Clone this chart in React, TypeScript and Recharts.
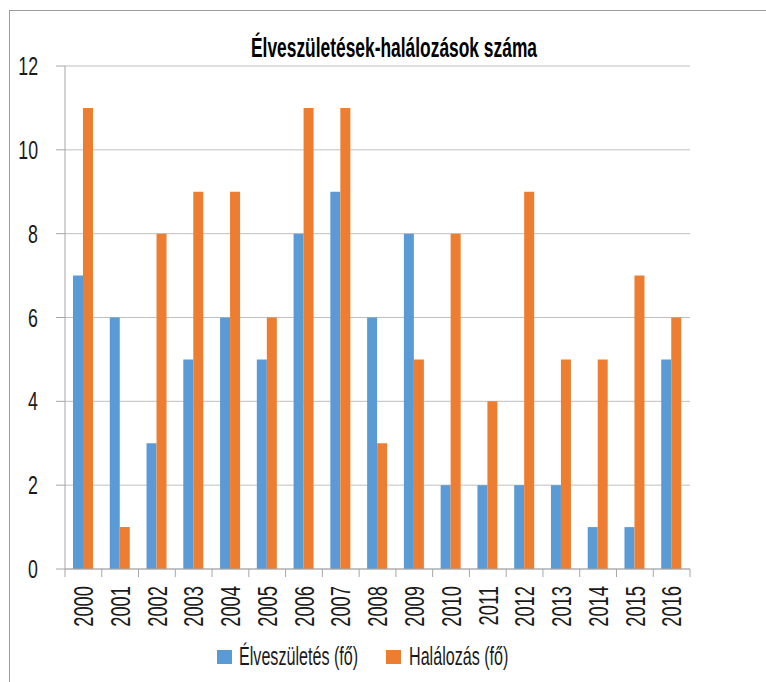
import React from 'react';
import { BarChart, Bar, XAxis, YAxis, CartesianGrid, Legend } from 'recharts';

const years = ['2000', '2001', '2002', '2003', '2004', '2005', '2006', '2007', '2008', '2009', '2010', '2011', '2012', '2013', '2014', '2015', '2016'];
const births = [7, 6, 3, 5, 6, 5, 8, 9, 6, 8, 2, 2, 2, 2, 1, 1, 5];
const deaths = [11, 1, 8, 9, 9, 6, 11, 11, 3, 5, 8, 4, 9, 5, 5, 7, 6];
const yTicks = [0, 2, 4, 6, 8, 10, 12];
const seriesNames = ['Élveszületés (fő)', 'Halálozás (fő)'];
const seriesKeys = ['births', 'deaths'];
const title = 'Élveszületések-halálozások száma';

const data = years.map((y, i) => ({ year: y, births: births[i], deaths: deaths[i] }));

const W = 766;
const H = 682;
const margin = { top: 66, right: 76, bottom: 13, left: 0 };
const yAxisWidth = 65;
const plotWidth = W - margin.left - margin.right - yAxisWidth;
const band = plotWidth / years.length;

const FONT = '"Liberation Sans", Arial, sans-serif';
const SQUEEZE = 0.68;
const TEXT = '#1a1a1a';
const AXIS = '#a6a6a6';
const BLUE = '#5B9BD5';
const ORANGE = '#ED7D31';
const COLORS = [BLUE, ORANGE];

const XTick = (props: any) => {
  const { x, y, payload, index } = props;
  const half = band / 2;
  const ty = y + 17;
  return (
    <g>
      <line x1={x - half} y1={y} x2={x - half} y2={y + 8} stroke={AXIS} strokeWidth={1} />
      {index === years.length - 1 && (
        <line x1={x + half} y1={y} x2={x + half} y2={y + 8} stroke={AXIS} strokeWidth={1} />
      )}
      <g transform={`translate(${x} ${ty}) rotate(-90) scale(${SQUEEZE} 1)`}>
        <text x={0} y={0} dy="0.36em" textAnchor="end" fontFamily={FONT} fontSize={27} fill={TEXT}>
          {payload.value}
        </text>
      </g>
    </g>
  );
};

const YTick = (props: any) => {
  const { x, y, payload } = props;
  return (
    <g transform={`translate(${x} ${y}) scale(${SQUEEZE + 0.03} 1)`}>
      <text x={0} y={0} dy="0.36em" textAnchor="end" fontFamily={FONT} fontSize={25} fill={TEXT}>
        {payload.value}
      </text>
    </g>
  );
};

const legendLayout = [
  { sq: 217, tx: 239 },
  { sq: 386, tx: 409 },
];

const LegendContent = () => {
  return (
    <svg width={W} height={40} style={{ display: 'block', overflow: 'visible' }}>
      {seriesNames.map((name, i) => (
        <g key={seriesKeys[i]}>
          <rect x={legendLayout[i].sq} y={11} width={15} height={14} fill={COLORS[i]} />
          <g transform={`translate(${legendLayout[i].tx} 26) scale(0.62 1)`}>
            <text x={0} y={0} fontFamily={FONT} fontSize={26} fill={TEXT}>
              {name}
            </text>
          </g>
        </g>
      ))}
    </svg>
  );
};

export default function App() {
  return (
    <div style={{ position: 'absolute', left: 0, top: 0, width: W, height: H, background: '#fff', overflow: 'hidden' }}>
      <div style={{ position: 'absolute', left: 9, top: 10, width: 900, height: 900, border: '1px solid #9a9a9a', boxSizing: 'border-box' }} />
      <svg style={{ position: 'absolute', left: 0, top: 0 }} width={W} height={70}>
        <text
          x={251}
          y={57}
          fontFamily={FONT}
          fontWeight="bold"
          fontSize={27}
          fill="#000"
          textLength={286}
          lengthAdjust="spacingAndGlyphs"
        >
          {title}
        </text>
      </svg>
      <div style={{ position: 'absolute', left: 0, top: 0 }}>
        <BarChart width={W} height={H} data={data} margin={margin} barGap={0} barSize={10}>
          <CartesianGrid vertical={false} stroke="#bfbfbf" strokeWidth={1} />
          <XAxis
            dataKey="year"
            interval={0}
            height={70}
            tickSize={0}
            tickMargin={0}
            tickLine={false}
            axisLine={{ stroke: AXIS, strokeWidth: 1 }}
            tick={<XTick />}
          />
          <YAxis
            width={yAxisWidth}
            domain={[0, 12]}
            ticks={yTicks}
            interval={0}
            tickSize={9}
            tickMargin={18}
            axisLine={{ stroke: AXIS, strokeWidth: 1 }}
            tickLine={{ stroke: AXIS, strokeWidth: 1 }}
            tick={<YTick />}
          />
          <Legend
            verticalAlign="bottom"
            height={30}
            content={<LegendContent />}
            wrapperStyle={{ left: 0, width: W, top: 639, height: 30 }}
          />
          <Bar dataKey="births" name={seriesNames[0]} fill={BLUE} isAnimationActive={false} />
          <Bar dataKey="deaths" name={seriesNames[1]} fill={ORANGE} isAnimationActive={false} />
        </BarChart>
      </div>
    </div>
  );
}
